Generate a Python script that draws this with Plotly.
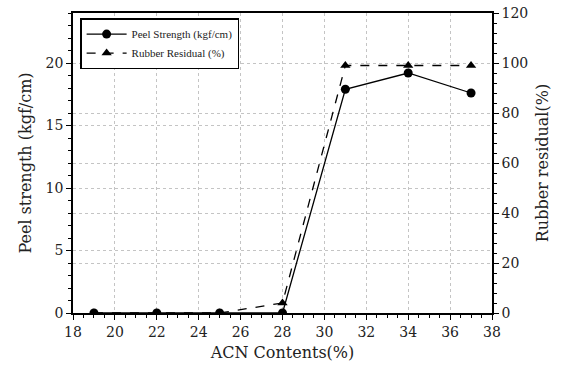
import plotly.graph_objects as go

acn = [19, 22, 25, 28, 31, 34, 37]
peel_strength = [0, 0, 0, 0, 17.9, 19.2, 17.6]
rubber_residual = [0, 0, 0, 4, 99, 99, 99]

FONT = "DejaVu Serif"

fig = go.Figure()
fig.add_trace(go.Scatter(
    x=acn, y=peel_strength, name="Peel Strength (kgf/cm)",
    mode="lines+markers",
    line=dict(color="black", width=1.3),
    marker=dict(symbol="circle", size=9, color="black"),
))
fig.add_trace(go.Scatter(
    x=acn, y=rubber_residual, name="Rubber Residual (%)",
    mode="lines+markers", yaxis="y2",
    line=dict(color="black", width=1.3, dash="dash"),
    marker=dict(symbol="triangle-up", size=9, color="black"),
))

grid = dict(showgrid=True, gridcolor="#c4c4c4", griddash="dot", gridwidth=1,
            automargin=False, ticklabeloverflow="allow")
tickf = dict(family=FONT, size=14, color="#222")
fig.update_layout(
    template="none",
    width=563, height=374,
    margin=dict(l=73, r=71, t=13, b=61, autoexpand=False),
    plot_bgcolor="white", paper_bgcolor="white",
    font=dict(family=FONT, size=14, color="#222"),
    showlegend=True,
    legend=dict(
        x=0.017, y=0.983, xanchor="left", yanchor="top",
        bordercolor="black", borderwidth=1.5, bgcolor="white",
        font=dict(family="Liberation Serif", size=11),
        tracegroupgap=0, itemwidth=40,
    ),
    xaxis=dict(
        range=[18, 38], dtick=2, tick0=18, tickfont=tickf,
        showline=True, linecolor="black", linewidth=1.5, mirror=True,
        ticks="outside", ticklen=5, tickcolor="black",
        minor=dict(dtick=0.5, ticks="outside", ticklen=3, tickcolor="black", showgrid=False),
        zeroline=False,
        title=dict(text="ACN Contents(%)", font=dict(family=FONT, size=16), standoff=8),
        **grid,
    ),
    yaxis=dict(
        range=[0, 24], dtick=5, tick0=0, tickfont=tickf,
        showline=True, linecolor="black", linewidth=1.5,
        ticks="outside", ticklen=5, tickcolor="black",
        minor=dict(dtick=1, ticks="outside", ticklen=3, tickcolor="black", showgrid=False),
        zeroline=False,
        title=dict(text="Peel strength (kgf/cm)", font=dict(family=FONT, size=16), standoff=10),
        **grid,
    ),
    yaxis2=dict(
        range=[0, 120], dtick=20, tick0=0, overlaying="y", side="right", tickfont=tickf,
        showline=True, linecolor="black", linewidth=1.5,
        ticks="outside", ticklen=5, tickcolor="black",
        minor=dict(dtick=4, ticks="outside", ticklen=3, tickcolor="black", showgrid=False),
        zeroline=False,
        title=dict(text="Rubber residual(%)", font=dict(family=FONT, size=16), standoff=10),
        **grid,
    ),
)

fig.write_html("out.html", config={"displayModeBar": False},
               post_script="document.body.style.margin='0';")
